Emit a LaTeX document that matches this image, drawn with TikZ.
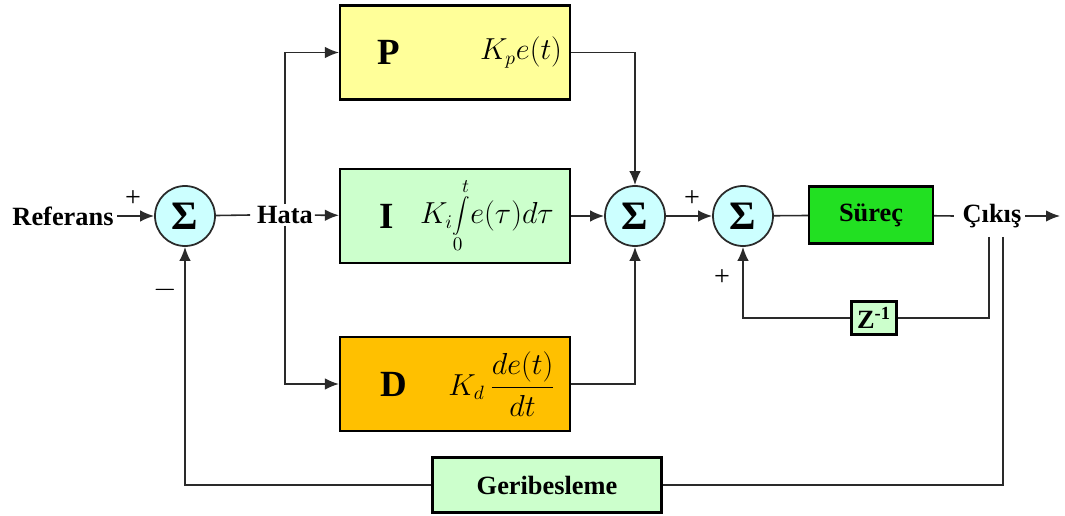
\documentclass[tikz,border=0pt]{standalone}
\usepackage{fontspec}
\setmainfont{Liberation Serif}
\usepackage{tikz}
\usetikzlibrary{arrows.meta, positioning, calc}
\definecolor{sari}{HTML}{FFFF99}
\definecolor{yesilacik}{HTML}{CCFFCC}
\definecolor{turuncu}{HTML}{FFC000}
\definecolor{yesil}{HTML}{22E022}
\definecolor{camgobegi}{HTML}{CCFFFF}
\definecolor{cizgi}{HTML}{2A2A2A}
\tikzset{
  kutu/.style={rectangle, draw=black, line width=1.2pt,
    minimum width=4.6cm, minimum height=1.88cm},
  kucukkutu/.style={rectangle, draw=black, line width=1.2pt, fill=yesilacik,
    font=\fontsize{15}{18}\selectfont\bfseries},
  toplayici/.style={circle, draw=cizgi, line width=1pt, fill=camgobegi,
    minimum size=1.2cm, inner sep=0pt, font=\fontsize{23}{26}\selectfont\bfseries},
  etiket/.style={font=\fontsize{15}{18}\selectfont\bfseries, inner sep=2pt},
  harf/.style={font=\fontsize{21}{24}\selectfont\bfseries},
  formul/.style={font=\fontsize{16}{19}\selectfont},
  isaret/.style={font=\fontsize{16}{18}\selectfont, inner sep=0pt},
  ok/.style={-{Latex[length=2.8mm, width=2.3mm]}, line width=0.9pt, cizgi},
  hat/.style={line width=0.9pt, cizgi}
}

\begin{document}
\begin{tikzpicture}
  \useasboundingbox (0,0) rectangle (21.3,10.3);

  % --- Giris ---
  \node[toplayici] (top1) at (3.7,5.98) {Σ};
  \node[etiket] (ref) at (1.26,5.98) {Referans};
  \node[etiket, fill=white, inner sep=1pt] (hata) at (5.7,6.0) {Hata};
  \node[isaret] (arti1) at (2.66,6.32) {+};
  \node[isaret] (eksi1) at (3.3,4.5) {$-$};

  % --- PID bloklari ---
  \node[kutu, fill=sari] (P) at (9.1,9.25) {};
  \node[harf] (Pharf) at ([xshift=1.0cm]P.west) {P};
  \node[formul] (Pformul) at ([xshift=-1.0cm]P.east) {$K_p e(t)$};

  \node[kutu, fill=yesilacik] (I) at (9.1,5.98) {};
  \node[harf] (Iharf) at ([xshift=0.96cm]I.west) {I};
  \node[formul] (Iformul) at ([xshift=2.96cm]I.west)
    {$K_i\!\displaystyle\int\limits_0^t\! e(\tau)d\tau$};

  \node[kutu, fill=turuncu] (D) at (9.1,2.62) {};
  \node[harf] (Dharf) at ([xshift=1.1cm]D.west) {D};
  \node[formul] (Dformul) at ([xshift=3.26cm]D.west)
    {$K_d\,\displaystyle\frac{de(t)}{dt}$};

  % --- Toplayicilar ve surec ---
  \node[toplayici] (top2) at (12.7,5.98) {Σ};
  \node[toplayici] (top3) at (14.86,5.98) {Σ};
  \node[isaret] (arti2) at (13.84,6.32) {+};
  \node[isaret] (arti3) at (14.44,4.74) {+};
  \node[kutu, fill=yesil, minimum width=2.48cm, minimum height=1.14cm,
    font=\fontsize{15}{18}\selectfont\bfseries] (surec) at (17.42,6.0) {Süreç};
  \node[etiket] (cikis) at (19.84,5.98) {Çıkış};
  \coordinate (son) at (21.2,5.98);

  % --- Geri besleme ---
  \node[kucukkutu, minimum width=0.9cm, minimum height=0.66cm, inner sep=1pt]
    (z) at (17.48,3.94) {Z\textsuperscript{-1}};
  \node[kucukkutu, minimum width=4.58cm, minimum height=1.1cm]
    (geri) at (10.94,0.6) {Geribesleme};
  \coordinate (zcik) at (19.78,5.56);
  \coordinate (gcik) at (20.06,5.56);

  % --- Baglantilar ---
  \draw[ok] (ref) -- (top1);
  \draw[hat] (top1) -- ([xshift=-0.1cm]hata.west);
  \draw[ok] (hata) -- (I);
  \draw[ok] (hata.north) |- (P.west);
  \draw[ok] (hata.south) |- (D.west);
  \draw[ok] (P.east) -| (top2.north);
  \draw[ok] (I) -- (top2);
  \draw[ok] (D.east) -| (top2.south);
  \draw[ok] (top2) -- (top3);
  \draw[hat] (top3) -- (surec);
  \draw[hat] (surec) -- ([xshift=-0.1cm]cikis.west);
  \draw[ok] (cikis) -- (son);
  \draw[hat] (zcik) |- (z);
  \draw[ok] (z) -| (top3.south);
  \draw[hat] (gcik) |- (geri);
  \draw[ok] (geri) -| (top1.south);

\end{tikzpicture}
\end{document}
